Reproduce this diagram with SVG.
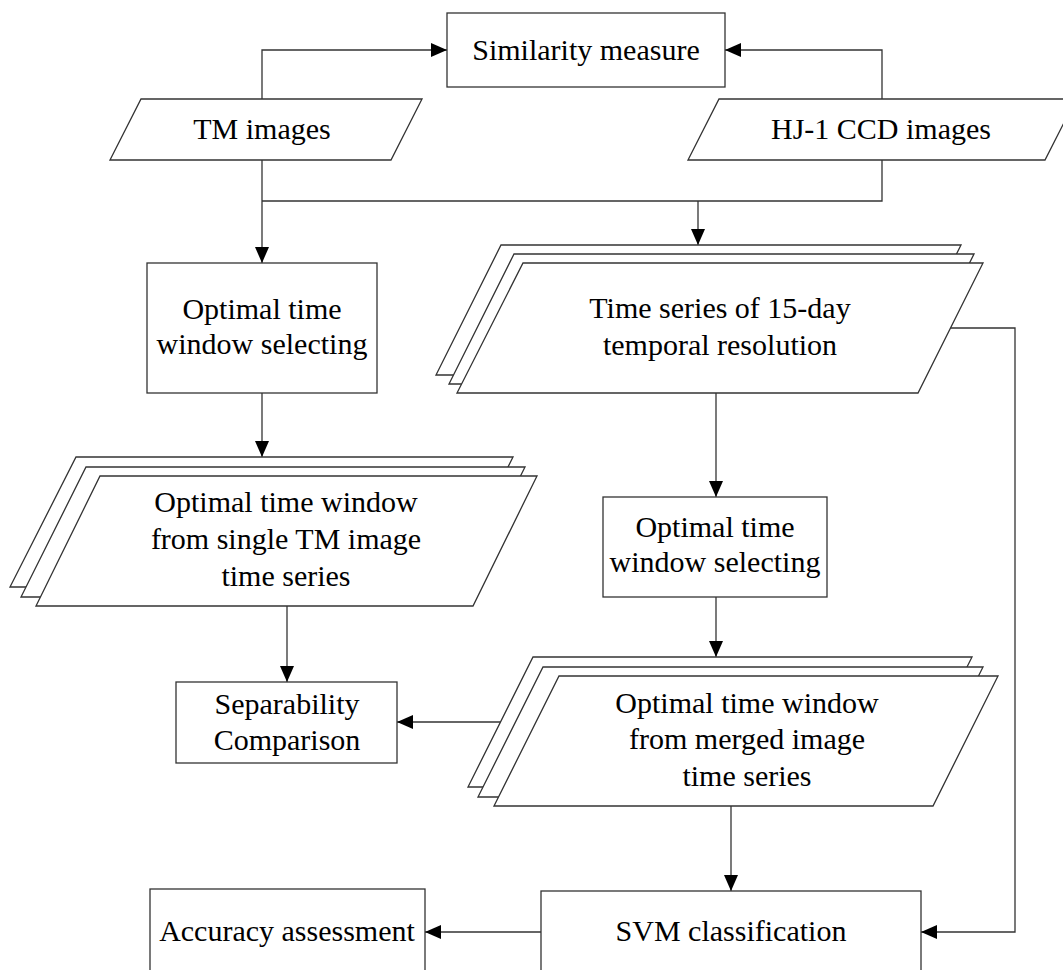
<svg xmlns="http://www.w3.org/2000/svg" width="1063" height="970" viewBox="0 0 1063 970">
<style>
.s{fill:#fff;stroke:#333;stroke-width:1.3}
.c{fill:none;stroke:#333;stroke-width:1.3}
text{font-family:"Liberation Serif","Times New Roman",serif;font-size:30px;fill:#000;text-anchor:middle}
</style>
<defs>
<marker id="ah" markerWidth="16" markerHeight="14" refX="16" refY="7" orient="auto" markerUnits="userSpaceOnUse"><path d="M0,0 L16,7 L0,14 z" fill="#000"/></marker>
</defs>
<rect width="1063" height="970" fill="#fff"/>
<g id="connectors">
<polyline class="c" points="262,99 262,50 447,50" marker-end="url(#ah)"/>
<polyline class="c" points="882,99 882,50 725,50" marker-end="url(#ah)"/>
<line class="c" x1="262" y1="160" x2="262" y2="263" marker-end="url(#ah)"/>
<polyline class="c" points="882,160 882,201 262,201"/>
<line class="c" x1="698" y1="201" x2="698" y2="245" marker-end="url(#ah)"/>
<line class="c" x1="262" y1="393" x2="262" y2="457" marker-end="url(#ah)"/>
<line class="c" x1="716" y1="393" x2="716" y2="497" marker-end="url(#ah)"/>
<line class="c" x1="716" y1="597" x2="716" y2="657" marker-end="url(#ah)"/>
<line class="c" x1="287" y1="606" x2="287" y2="682" marker-end="url(#ah)"/>
<line class="c" x1="501" y1="722" x2="397" y2="722" marker-end="url(#ah)"/>
<line class="c" x1="731" y1="806" x2="731" y2="891" marker-end="url(#ah)"/>
<polyline class="c" points="950,328 1015,328 1015,932 921,932" marker-end="url(#ah)"/>
<line class="c" x1="541" y1="932" x2="425" y2="932" marker-end="url(#ah)"/>
</g>
<g id="similarity">
<rect class="s" x="447" y="13" width="278" height="74"/>
<text x="586" y="60">Similarity measure</text>
</g>
<g id="tm-images">
<polygon class="s" points="141,99 422,99 391,160 110,160"/>
<text x="262" y="139">TM images</text>
</g>
<g id="hj1-images">
<polygon class="s" points="719,99 1076,99 1045,160 688,160"/>
<text x="881" y="139">HJ-1 CCD images</text>
</g>
<g id="opt-left">
<rect class="s" x="147" y="263" width="230" height="130"/>
<text x="262" y="319">Optimal time</text>
<text x="262" y="354">window selecting</text>
</g>
<g id="time-series">
<polygon class="s" points="501,245 961,245 896,375 436,375"/>
<polygon class="s" points="514,254 974,254 909,384 449,384"/>
<polygon class="s" points="523,263 983,263 918,393 457,393"/>
<text x="720" y="318">Time series of 15-day</text>
<text x="720" y="355">temporal resolution</text>
</g>
<g id="tm-window">
<polygon class="s" points="76,457 513,457 448,587 10,587"/>
<polygon class="s" points="86,467 525,467 460,597 21,597"/>
<polygon class="s" points="100,476 537,476 473,606 36,606"/>
<text x="286" y="512">Optimal time window</text>
<text x="286" y="549">from single TM image</text>
<text x="286" y="586">time series</text>
</g>
<g id="opt-right">
<rect class="s" x="603" y="497" width="224" height="100"/>
<text x="715" y="537">Optimal time</text>
<text x="715" y="572">window selecting</text>
</g>
<g id="merged-window">
<polygon class="s" points="533,657 972,657 907,787 468,787"/>
<polygon class="s" points="543,667 983,667 918,797 478,797"/>
<polygon class="s" points="559,676 998,676 933,806 494,806"/>
<text x="747" y="713">Optimal time window</text>
<text x="747" y="749">from merged image</text>
<text x="747" y="786">time series</text>
</g>
<g id="separability">
<rect class="s" x="176" y="682" width="221" height="81"/>
<text x="287" y="714">Separability</text>
<text x="287" y="750">Comparison</text>
</g>
<g id="accuracy">
<rect class="s" x="150" y="889" width="275" height="120"/>
<text x="287" y="941">Accuracy assessment</text>
</g>
<g id="svm">
<rect class="s" x="541" y="891" width="380" height="120"/>
<text x="731" y="941">SVM classification</text>
</g>
</svg>
